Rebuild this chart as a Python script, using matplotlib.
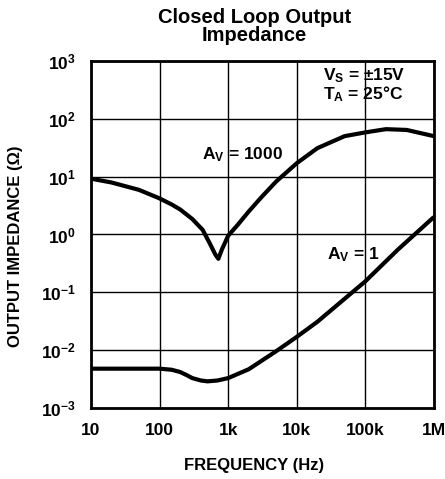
import numpy as np
import matplotlib
matplotlib.use("Agg")
import matplotlib.pyplot as plt
from matplotlib.ticker import FixedLocator, FixedFormatter

# Data
freq_av1000 = [10, 20, 50, 100, 150, 200, 300, 425, 540, 650, 720, 810, 1000, 1400, 2000,
               3000, 5000, 10e3, 20e3, 50e3, 100e3, 200e3, 400e3, 1e6]
z_av1000 = [9.2, 7.9, 5.9, 4.2, 3.3, 2.7, 1.85, 1.2, 0.7, 0.45, 0.38, 0.55, 0.95, 1.5, 2.5,
            4.3, 8.2, 17, 31, 50, 58, 66, 64, 50]

freq_av1 = [10, 100, 150, 200, 250, 300, 400, 500, 700, 1000, 2000, 5000, 10e3, 20e3,
            100e3, 300e3, 1e6]
z_av1 = [0.0048, 0.0048, 0.0046, 0.0042, 0.0037, 0.0033, 0.0030, 0.0029, 0.0030, 0.0033,
         0.0047, 0.0096, 0.017, 0.031, 0.155, 0.55, 2.0]

x_ticks = [10, 100, 1e3, 1e4, 1e5, 1e6]
x_labels = ["10", "100", "1k", "10k", "100k", "1M"]
y_ticks = [1e-3, 1e-2, 1e-1, 1e0, 1e1, 1e2, 1e3]
y_labels = [r"$10^{-3}$", r"$10^{-2}$", r"$10^{-1}$", r"$10^{0}$", r"$10^{1}$", r"$10^{2}$", r"$10^{3}$"]

plt.rcParams["font.family"] = ["Liberation Sans", "DejaVu Sans"]
plt.rcParams["font.weight"] = "bold"
plt.rcParams["mathtext.fontset"] = "custom"
plt.rcParams["mathtext.rm"] = "Liberation Sans:bold"
plt.rcParams["mathtext.it"] = "Liberation Sans:bold"
plt.rcParams["mathtext.bf"] = "Liberation Sans:bold"

fig = plt.figure(figsize=(4.45, 4.79), dpi=100)
ax = fig.add_axes([0.2045, 0.148, 0.7705, 0.725])

ax.plot(freq_av1000, z_av1000, color="black", lw=3.0, solid_capstyle="butt")
ax.plot(freq_av1, z_av1, color="black", lw=3.0, solid_capstyle="butt")

ax.set_xscale("log")
ax.set_yscale("log")
ax.set_xlim(10, 1e6)
ax.set_ylim(1e-3, 1e3)
ax.xaxis.set_major_locator(FixedLocator(x_ticks))
ax.xaxis.set_major_formatter(FixedFormatter(x_labels))
ax.yaxis.set_major_locator(FixedLocator(y_ticks))
ax.yaxis.set_major_formatter(FixedFormatter(y_labels))
ax.minorticks_off()
ax.tick_params(length=0, labelsize=12.5, pad=11)
ax.grid(True, color="black", lw=1.0)
for s in ax.spines.values():
    s.set_linewidth(2)

# Labels on the plot
ax.text(415, 24, r"A$_V$ = 1000", fontsize=12.5, va="center", ha="left")
ax.text(27.5e3, 0.45, r"A$_V$ = 1", fontsize=12.5, va="center", ha="left")
ax.text(24e3, 550, r"V$_S$ = ±15V", fontsize=12.5, va="center", ha="left")
ax.text(24e3, 265, r"T$_A$ = 25°C", fontsize=12.5, va="center", ha="left")

fig.text(0.571, 0.984, "Closed Loop Output\nImpedance", ha="center", va="top",
         fontsize=14.5, fontweight="bold", linespacing=0.95)
fig.text(0.034, 0.486, "OUTPUT IMPEDANCE (Ω)", rotation=90, ha="center", va="center",
         fontsize=12)
fig.text(0.571, 0.029, "FREQUENCY (Hz)", ha="center", va="center", fontsize=12)

fig.savefig("out.png", dpi=100)
